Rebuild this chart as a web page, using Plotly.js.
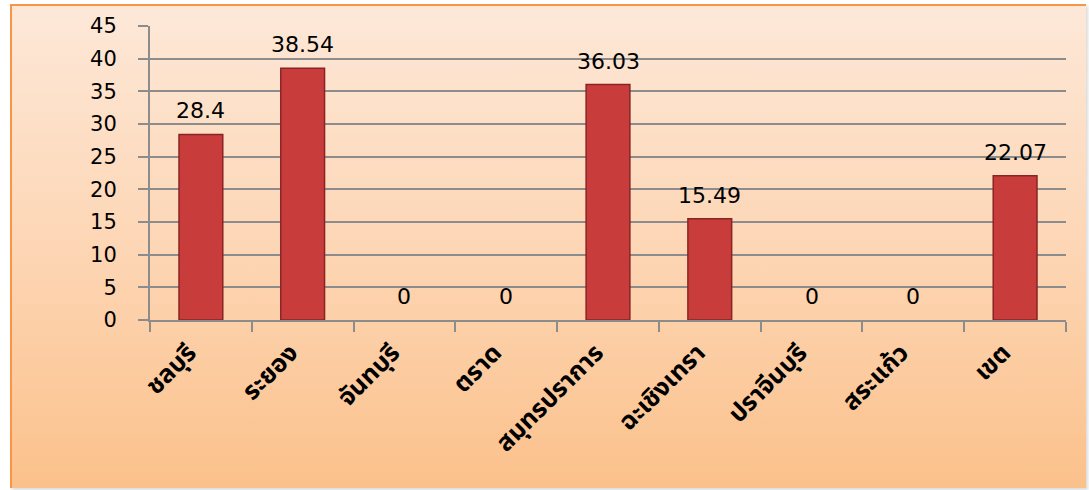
<!DOCTYPE html>
<html>
<head>
<meta charset="utf-8">
<script src="https://cdn.plot.ly/plotly-3.0.1.min.js"></script>
<style>
html,body{margin:0;padding:0;width:1089px;height:490px;background:#ffffff;overflow:hidden;}
#frame{position:absolute;left:10px;top:4px;width:1074px;height:482px;
 background:linear-gradient(to bottom,#fde8d8 0%,#fdd6b5 50%,#fbc18b 100%);
 border-top:2px solid #f79646;border-left:2px solid #f79646;
 box-shadow:2px 2px 3px rgba(0,0,0,0.15);}
#chart{position:absolute;left:0;top:0;width:1089px;height:490px;}
</style>
</head>
<body>
<div id="frame"></div>
<div id="chart"></div>
<script>
const categories = ["ชลบุรี","ระยอง","จันทบุรี","ตราด","สมุทรปราการ","ฉะเชิงเทรา","ปราจีนบุรี","สระแก้ว","เขต"];
const values = [28.4, 38.54, 0, 0, 36.03, 15.49, 0, 0, 22.07];
const valueLabels = ["28.4","38.54","0","0","36.03","15.49","0","0","22.07"];
const yTicks = [0,5,10,15,20,25,30,35,40,45];

const trace = {
  type: "bar",
  x: categories,
  y: values,
  marker: {color: "#c83c3c", line: {color: "#8a2424", width: values.map(v => v > 0 ? 1.5 : 0)}},
  width: 0.43,
  hoverinfo: "none"
};

const annotations = categories.map((c, i) => ({
  x: c, y: values[i], xref: "x", yref: "y",
  text: valueLabels[i], showarrow: false,
  yanchor: "bottom", yshift: 9,
  font: {family: "DejaVu Sans, Verdana, sans-serif", size: 22, color: "#000000"}
}));

const layout = {
  width: 1089, height: 490,
  margin: {l: 150, r: 23, t: 26, b: 170},
  paper_bgcolor: "rgba(0,0,0,0)",
  plot_bgcolor: "rgba(0,0,0,0)",
  showlegend: false,
  annotations: annotations,
  xaxis: {
    type: "category",
    tickangle: -45,
    tickfont: {family: "Noto Sans Thai, Noto Sans, DejaVu Sans, sans-serif", size: 25, color: "#000000", weight: "bold"},
    showline: true, linecolor: "#8c8c8c", linewidth: 2,
    ticks: "outside", ticklen: 10, tickcolor: "#8c8c8c", tickwidth: 2,
    tickson: "boundaries",
    showgrid: false,
    ticklabelstandoff: 6,
    ticklabelshift: -12
  },
  yaxis: {
    range: [0, 45],
    tickvals: yTicks,
    ticktext: yTicks.map(String),
    tickfont: {family: "DejaVu Sans, Verdana, sans-serif", size: 21, color: "#000000"},
    showline: true, linecolor: "#8c8c8c", linewidth: 2,
    ticks: "outside", ticklen: 10, tickcolor: "#8c8c8c", tickwidth: 2,
    showgrid: true, gridcolor: "#8c8c8c", gridwidth: 2,
    zeroline: false,
    ticklabelstandoff: 17
  }
};

Plotly.newPlot("chart", [trace], layout, {staticPlot: true, displayModeBar: false});
</script>
</body>
</html>
